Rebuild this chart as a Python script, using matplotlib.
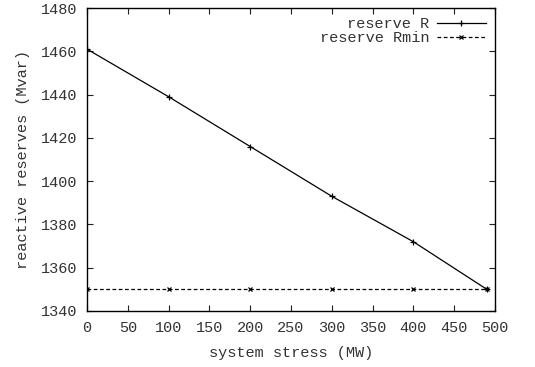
import matplotlib
matplotlib.use("Agg")
import matplotlib.pyplot as plt

stress = [0, 100, 200, 300, 400, 490]
reserve_R = [1461, 1439, 1416, 1393, 1372, 1350]
reserve_Rmin = [1350, 1350, 1350, 1350, 1350, 1350]
xticks = list(range(0, 501, 50))
yticks = list(range(1340, 1481, 20))

plt.rcParams['font.family'] = ['Liberation Mono', 'DejaVu Sans Mono']
plt.rcParams['font.size'] = 11

fig = plt.figure(figsize=(5.35, 3.67), dpi=100)
ax = fig.add_axes([87/535, 1-311/367, (495-87)/535, (311-8)/367])

ax.plot(stress, reserve_R, color='black', lw=0.9, marker='+', ms=4, mew=0.9, label='reserve R')
ax.plot(stress, reserve_Rmin, color='black', lw=0.9, ls=(0, (3, 2)), marker='x', ms=3.5, mew=0.9, label='reserve Rmin')

ax.set_xlim(0, 500)
ax.set_ylim(1340, 1480)
ax.set_xticks(xticks)
ax.set_yticks(yticks)
ax.tick_params(direction='in', top=True, right=True, length=4, width=0.8, pad=7, colors='#222222', labelcolor='#333333')
for s in ax.spines.values():
    s.set_linewidth(1.0)

ax.set_xlabel('system stress (MW)', labelpad=8, color='#333333')
ax.set_ylabel('reactive reserves (Mvar)', labelpad=8, color='#333333')

leg = ax.legend(loc='upper right', frameon=False, markerfirst=False, handlelength=3.2,
                borderaxespad=0.2, labelspacing=0.0, handletextpad=0.5)
for t in leg.get_texts():
    t.set_color('#333333')

fig.savefig('out.png', dpi=100)
